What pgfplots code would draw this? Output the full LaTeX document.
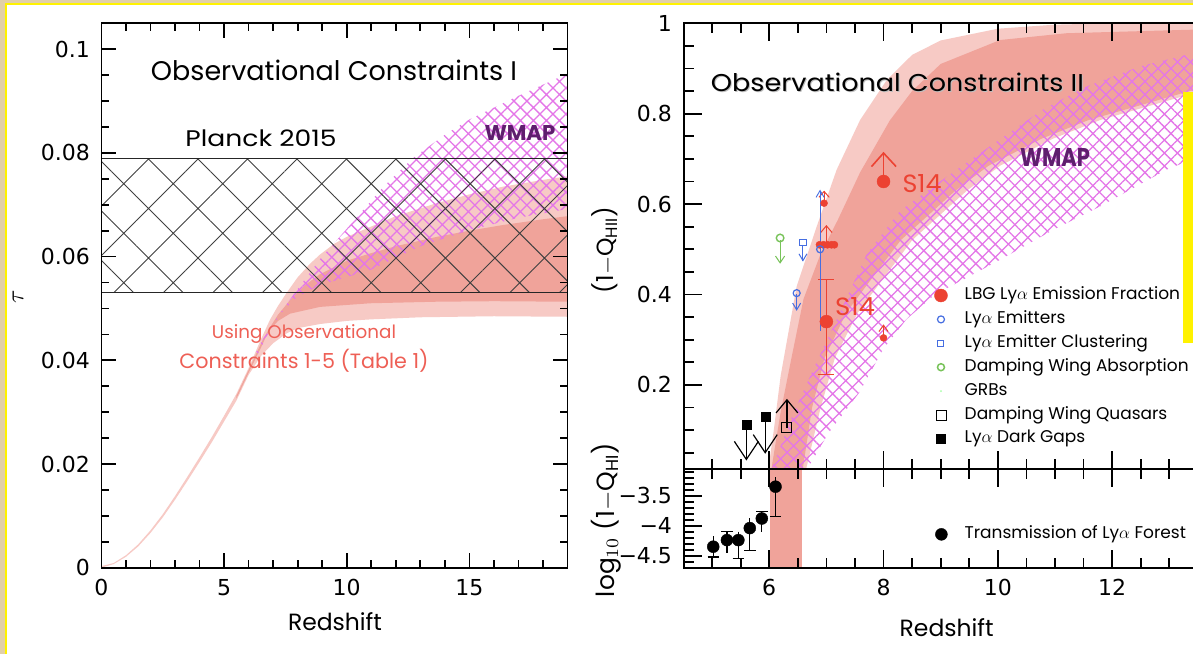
\documentclass[border=0pt]{standalone}
\usepackage{fontspec}
\setmainfont{Poppins}
\newfontfamily\dejavu{DejaVu Sans}
\usepackage{graphicx}
\usepackage{pgfplots}
\pgfplotsset{compat=1.18}
\usetikzlibrary{patterns.meta}
\definecolor{beige}{RGB}{226,208,168}
\definecolor{yel}{RGB}{255,242,0}
\definecolor{lightband}{RGB}{247,202,197}
\definecolor{darkband}{RGB}{240,163,154}
\definecolor{wmapc}{RGB}{228,118,232}
\definecolor{wmaptext}{RGB}{95,30,110}
\definecolor{dred}{RGB}{236,66,50}
\definecolor{tred}{RGB}{238,95,85}
\definecolor{dblue}{RGB}{70,110,225}
\definecolor{dgreen}{RGB}{120,195,90}
\newcommand{\tlf}{\dejavu\fontsize{22}{24}\selectfont}
\newcommand{\lf}{\fontsize{17}{18}\selectfont}
\tikzset{tk/.style={line width=1.7pt, black, line cap=butt}}
\pgfplotsset{base/.style={scale only axis, anchor=south west,
  axis line style={line width=1.7pt},
  major tick length=0pt, minor tick length=0pt, tick align=inside,
  ticklabel style={font=\tlf}, /pgf/number format/assume math mode=true,
  axis on top, clip=true, scaled ticks=false,
  xticklabel style={yshift=-8pt}, yticklabel style={xshift=-8pt}},
  leg/.style={legend cell align=left,
  legend image code/.code={\path (-12pt,0pt) (21pt,0pt); \draw[##1] plot coordinates {(0pt,0pt)};}}}
\begin{document}
\begin{tikzpicture}
\path[use as bounding box] (0pt,0pt) rectangle (1193pt,654pt);
\fill[beige] (0pt,0pt) rectangle (1193pt,654pt);
\fill[white] (7pt,0pt) rectangle (1193pt,649pt);
\draw[yel, line width=2pt] (6pt,0pt) -- (6pt,650pt) -- (1193pt,650pt);

% ---------------- left panel ----------------
\begin{axis}[base, at={(101.4pt,86.3pt)}, width=466.1pt, height=544.4pt,
  xmin=0, xmax=19, ymin=0, ymax=0.105,
  xtick={0,5,10,15}, xticklabels={0,5,10,15},
  ytick={0,0.02,0.04,0.06,0.08,0.1}, yticklabels={0,0.02,0.04,0.06,0.08,0.1}]
\addplot[fill=lightband, draw=none, forget plot] coordinates {
(0,0.0003) (0.5,0.0009) (1,0.0024) (1.5,0.0045) (2,0.0072) (2.5,0.0103) (3,0.0138) (3.5,0.0175) (4,0.0213) (4.5,0.0252) (5,0.0293) (5.5,0.0335) (6,0.0385) (6.5,0.0440) (6.87,0.0478) (7.2,0.0505) (7.55,0.0530) (8,0.0560) (8.5,0.0586) (8.91,0.0604) (9.5,0.0625) (10,0.0638) (10.95,0.0657) (12,0.0678) (13.66,0.0703) (15,0.0720) (16.38,0.0735) (18,0.0748) (19,0.0755)
(19,0.0484) (16,0.0485) (13,0.0483) (11,0.0479) (10,0.0476) (8.91,0.0470) (8,0.0462) (7.55,0.0452) (7,0.0433) (6.5,0.0408) (6,0.0372) (5.5,0.0322) (5,0.0282) (4.5,0.0242) (4,0.0204) (3.5,0.0167) (3,0.0131) (2.5,0.0097) (2,0.0067) (1.5,0.0041) (1,0.0021) (0.5,0.0007) (0,0)} -- cycle;
\addplot[fill=darkband, draw=none, forget plot] coordinates {
(5.5,0.0331) (6,0.0381) (6.5,0.0432) (6.8,0.0458) (7.2,0.0488) (7.69,0.0516) (8.3,0.0545) (8.91,0.0566) (10,0.0592) (10.95,0.0606) (12,0.0620) (13.66,0.0638) (15,0.0650) (16.38,0.0661) (18,0.0672) (19,0.0678)
(19,0.0513) (16,0.0514) (13.66,0.0513) (10.95,0.0510) (8.91,0.0503) (7.69,0.0490) (7.2,0.0476) (6.8,0.0455) (6.5,0.0424) (6,0.0376) (5.5,0.0326)} -- cycle;
\addplot[draw=none, pattern={Hatch[angle=45,distance=9.2pt,line width=1.3pt]}, pattern color=wmapc, forget plot] coordinates {
(6.3,0.0415) (6.6,0.0442) (7.2,0.0485) (7.88,0.0530) (8.91,0.0595) (10.27,0.0668) (11.5,0.0735) (12.7,0.0790) (14,0.0835) (15.02,0.0865) (17,0.0910) (19,0.0953)
(19,0.0692) (17,0.0675) (15,0.0651) (13,0.0620) (10.95,0.0574) (8.91,0.0545) (7.96,0.0522) (7.3,0.0490) (6.8,0.0452) (6.3,0.0405)} -- cycle;
\addplot[draw=none, pattern={Hatch[angle=45,distance=35pt,line width=1pt]}, pattern color=black!75, forget plot] coordinates {
(0,0.053) (19,0.053) (19,0.079) (0,0.079)} -- cycle;
\addplot[black!85, line width=1.1pt, forget plot] coordinates {(0,0.079) (19,0.079)};
\addplot[black!85, line width=1.1pt, forget plot] coordinates {(0,0.053) (19,0.053)};
\end{axis}

% ---------------- right top panel ----------------
\begin{axis}[base, leg, at={(683.5pt,185.5pt)}, width=542.9pt, height=445.2pt,
  xmin=4.5, xmax=14, ymin=0.015, ymax=1,
  axis line style={line width=2pt},
  xtick={6,8,10,12,14}, xticklabels={},
  ytick={0.2,0.4,0.6,0.8,1}, yticklabels={0.2,0.4,0.6,0.8,1},
  legend style={draw=none, fill=none, at={(0.4504,0.4115)}, anchor=north west, inner sep=0pt, row sep=3.9pt, font=\lf,
    nodes={inner sep=2pt, text height=12pt, text depth=4pt}}]
\addplot[fill=lightband, draw=none, forget plot] coordinates {
(5.97,0) (6.08,0.1) (6.2,0.22) (6.48,0.418) (6.83,0.55) (7.18,0.676) (7.59,0.786) (8.06,0.875) (8.5,0.93) (9.0,0.962) (10.0,0.988) (11,0.997) (12,1.0) (14,1.0)
(14,0.86) (13.42,0.845) (11.79,0.786) (10.97,0.745) (10.04,0.685) (9.46,0.63) (8.5,0.52) (7.98,0.433) (7.55,0.36) (7.15,0.26) (6.9,0.15) (6.62,0)} -- cycle;
\addplot[fill=darkband, draw=none, forget plot] coordinates {
(6.02,0) (6.2,0.14) (6.39,0.26) (6.6,0.39) (6.9,0.49) (7.2,0.565) (7.59,0.67) (8.11,0.785) (8.5,0.85) (9.0,0.91) (10.04,0.963) (11.2,0.978) (14,0.988)
(14,0.872) (13.22,0.845) (11.59,0.786) (10.77,0.745) (9.84,0.685) (9.26,0.63) (8.3,0.52) (7.78,0.433) (7.35,0.36) (6.97,0.26) (6.75,0.15) (6.57,0)} -- cycle;
\addplot[draw=none, pattern={Hatch[angle=45,distance=9.2pt,line width=1.3pt]}, pattern color=wmapc, forget plot] coordinates {
(6.0,0) (6.4,0.13) (6.77,0.234) (7.18,0.344) (7.71,0.49) (8.29,0.585) (9.1,0.66) (10,0.74) (10.8,0.81) (11.55,0.86) (12.5,0.905) (13.42,0.934) (14,0.945)
(14,0.73) (12.95,0.676) (11.79,0.595) (11,0.545) (10.04,0.477) (9.5,0.44) (8.9,0.40) (8.4,0.345) (8.0,0.28) (7.57,0.182) (7.04,0.094) (6.6,0)} -- cycle;
\addplot[dred, line width=1.6pt, forget plot] coordinates {(8.0,0.65) (8.0,0.713)};
\addplot[dred, line width=1.6pt, forget plot] coordinates {(7.79,0.683) (8.0,0.713) (8.22,0.683)};
\addplot[only marks, mark=*, mark size=6.5pt, dred, forget plot] coordinates {(8.0,0.65)};
\addplot[dred, line width=1.6pt, forget plot] coordinates {(7.0,0.223) (7.0,0.433)};
\addplot[dred, line width=1.6pt, forget plot] coordinates {(6.86,0.433) (7.14,0.433)};
\addplot[dred, line width=1.6pt, forget plot] coordinates {(6.86,0.223) (7.14,0.223)};
\addplot[only marks, mark=*, mark size=6.5pt, dred, forget plot] coordinates {(7.0,0.34)};
\addplot[dred, line width=1pt, forget plot] coordinates {(6.96,0.602) (6.96,0.628)};
\addplot[dred, line width=1pt, forget plot] coordinates {(6.87,0.615) (6.96,0.628) (7.05,0.615)};
\addplot[only marks, mark=*, mark size=3.5pt, dred, forget plot] coordinates {(6.96,0.602)};
\addplot[dred, line width=1pt, forget plot] coordinates {(7.0,0.51) (7.0,0.552)};
\addplot[dred, line width=1pt, forget plot] coordinates {(6.9,0.537) (7.0,0.552) (7.1,0.537)};
\addplot[only marks, mark=*, mark size=3.6pt, dred, forget plot] coordinates {(6.88,0.51) (6.95,0.51) (7.02,0.51) (7.09,0.51) (7.14,0.51)};
\addplot[dred, line width=1pt, forget plot] coordinates {(8.0,0.304) (8.0,0.332)};
\addplot[dred, line width=1pt, forget plot] coordinates {(7.92,0.318) (8.0,0.332) (8.08,0.318)};
\addplot[only marks, mark=*, mark size=3.5pt, dred, forget plot] coordinates {(8.0,0.304)};
\addplot[dblue, line width=0.9pt, forget plot] coordinates {(6.89,0.32) (6.89,0.63)};
\addplot[dblue, line width=0.9pt, forget plot] coordinates {(6.82,0.615) (6.89,0.63) (6.96,0.615)};
\addplot[only marks, mark=o, mark size=3.5pt, dblue, line width=1.2pt, fill=white, forget plot] coordinates {(6.89,0.50)};
\addplot[dblue, line width=1pt, forget plot] coordinates {(6.59,0.51) (6.59,0.475)};
\addplot[dblue, line width=1pt, forget plot] coordinates {(6.52,0.49) (6.59,0.475) (6.66,0.49)};
\addplot[only marks, mark=square, mark size=3.2pt, dblue, line width=1.2pt, forget plot] coordinates {(6.59,0.515)};
\addplot[dblue, line width=1pt, forget plot] coordinates {(6.48,0.40) (6.48,0.366)};
\addplot[dblue, line width=1pt, forget plot] coordinates {(6.41,0.381) (6.48,0.366) (6.55,0.381)};
\addplot[only marks, mark=o, mark size=3.5pt, dblue, line width=1.2pt, forget plot] coordinates {(6.48,0.403)};
\addplot[dgreen, line width=1pt, forget plot] coordinates {(6.19,0.52) (6.19,0.47)};
\addplot[dgreen, line width=1pt, forget plot] coordinates {(6.11,0.485) (6.19,0.47) (6.27,0.485)};
\addplot[only marks, mark=o, mark size=3.8pt, dgreen, line width=1.4pt, forget plot] coordinates {(6.19,0.525)};
\addplot[black, line width=1.2pt, forget plot] coordinates {(5.6,0.112) (5.6,0.035)};
\addplot[black, line width=1.2pt, forget plot] coordinates {(5.39,0.075) (5.6,0.035) (5.81,0.075)};
\addplot[black, line width=1.2pt, forget plot] coordinates {(5.93,0.13) (5.93,0.05)};
\addplot[black, line width=1.2pt, forget plot] coordinates {(5.72,0.09) (5.93,0.05) (6.14,0.09)};
\addplot[only marks, mark=square*, mark size=4.5pt, black, forget plot] coordinates {(5.6,0.112) (5.93,0.13)};
\addplot[black, line width=1.2pt, forget plot] coordinates {(6.31,0.105) (6.31,0.167)};
\addplot[black, line width=1.2pt, forget plot] coordinates {(6.12,0.138) (6.31,0.167) (6.5,0.138)};
\addplot[only marks, mark=square, mark size=5pt, black, line width=1pt, forget plot] coordinates {(6.31,0.105)};
\addlegendimage{only marks, mark=*, mark size=6.5pt, color=dred}
\addlegendentry{LBG Ly$\alpha$ Emission Fraction}
\addlegendimage{only marks, mark=o, mark size=3.5pt, dblue, line width=1.2pt}
\addlegendentry{Ly$\alpha$ Emitters}
\addlegendimage{only marks, mark=square, mark size=3pt, dblue, line width=1pt}
\addlegendentry{Ly$\alpha$ Emitter Clustering}
\addlegendimage{only marks, mark=o, mark size=3.5pt, dgreen, line width=1.5pt}
\addlegendentry{Damping Wing Absorption}
\addlegendimage{only marks, mark=*, mark size=0.8pt, green!30!white}
\addlegendentry{GRBs}
\addlegendimage{only marks, mark=square, mark size=5pt, black, line width=0.8pt}
\addlegendentry{Damping Wing Quasars}
\addlegendimage{only marks, mark=square*, mark size=4.5pt, black}
\addlegendentry{Ly$\alpha$ Dark Gaps}
\end{axis}

% ---------------- right bottom panel ----------------
\begin{axis}[base, leg, at={(683.5pt,86.3pt)}, width=542.9pt, height=99.2pt,
  xmin=4.5, xmax=14, ymin=-4.7, ymax=-3.047,
  axis line style={line width=2pt},
  xtick={6,8,10,12}, xticklabels={6,8,10,12},
  ytick={-4.5,-4,-3.5}, yticklabels={−4.5,−4,−3.5},
  legend style={draw=none, fill=none, at={(0.4522,0.439)}, anchor=north west, inner sep=0pt, font=\lf,
    nodes={inner sep=2pt, text height=12pt, text depth=4pt}}]
\addplot[fill=darkband, draw=none, forget plot] coordinates {(6.02,-5) (6.57,-5) (6.57,-3) (6.02,-3)} -- cycle;
\addplot[black, line width=1.2pt, forget plot] coordinates {(5.02,-4.18) (5.02,-4.52)};
\addplot[black, line width=1.2pt, forget plot] coordinates {(5.26,-4.10) (5.26,-4.46)};
\addplot[black, line width=1.2pt, forget plot] coordinates {(5.46,-4.10) (5.46,-4.54)};
\addplot[black, line width=1.2pt, forget plot] coordinates {(5.66,-3.88) (5.66,-4.41)};
\addplot[black, line width=1.2pt, forget plot] coordinates {(5.87,-3.77) (5.87,-4.10)};
\addplot[black, line width=1.2pt, forget plot] coordinates {(6.11,-3.19) (6.11,-3.85)};
\addplot[black, line width=1.2pt, forget plot] coordinates {(4.92,-4.52) (5.12,-4.52)};
\addplot[black, line width=1.2pt, forget plot] coordinates {(5.16,-4.10) (5.36,-4.10)};
\addplot[black, line width=1.2pt, forget plot] coordinates {(5.36,-4.54) (5.56,-4.54)};
\addplot[black, line width=1.2pt, forget plot] coordinates {(5.56,-4.41) (5.76,-4.41)};
\addplot[black, line width=1.2pt, forget plot] coordinates {(5.77,-3.77) (5.97,-3.77)};
\addplot[black, line width=1.2pt, forget plot] coordinates {(6.01,-3.85) (6.21,-3.85)};
\addplot[only marks, mark=*, mark size=6pt, black, forget plot] coordinates {
(5.02,-4.35) (5.26,-4.24) (5.46,-4.24) (5.66,-4.04) (5.87,-3.88) (6.11,-3.35)};
\addlegendimage{only marks, mark=*, mark size=6pt, black}
\addlegendentry{Transmission of Ly$\alpha$ Forest}
\end{axis}

% ---------------- tick marks (axis decoration) ----------------
\foreach \z in {0,5,10,15}{
  \draw[tk] ({(101.4+24.532*\z)*1pt},86.3pt) -- ++(0pt,15pt);
  \draw[tk] ({(101.4+24.532*\z)*1pt},630.7pt) -- ++(0pt,-15pt);}
\foreach \z in {1,2,3,4,6,7,8,9,11,12,13,14,16,17,18}{
  \draw[tk] ({(101.4+24.532*\z)*1pt},86.3pt) -- ++(0pt,8pt);
  \draw[tk] ({(101.4+24.532*\z)*1pt},630.7pt) -- ++(0pt,-8pt);}
\foreach \t in {0.02,0.04,0.06,0.08,0.1}{
  \draw[tk] (101.4pt,{(86.3+5184.8*\t)*1pt}) -- ++(15pt,0pt);
  \draw[tk] (567.5pt,{(86.3+5184.8*\t)*1pt}) -- ++(-15pt,0pt);}
\foreach \t in {0.005,0.01,0.015,0.025,0.03,0.035,0.045,0.05,0.055,0.065,0.07,0.075,0.085,0.09,0.095}{
  \draw[tk] (101.4pt,{(86.3+5184.8*\t)*1pt}) -- ++(8pt,0pt);
  \draw[tk] (567.5pt,{(86.3+5184.8*\t)*1pt}) -- ++(-8pt,0pt);}
\foreach \z in {6,8,10,12}{
  \draw[tk] ({(683.5+57.147*(\z-4.5))*1pt},86.3pt) -- ++(0pt,18pt);
  \draw[tk] ({(683.5+57.147*(\z-4.5))*1pt},167.5pt) -- ++(0pt,36pt);
  \draw[tk] ({(683.5+57.147*(\z-4.5))*1pt},630.7pt) -- ++(0pt,-18pt);}
\foreach \z in {5,5.5,6.5,7,7.5,8.5,9,9.5,10.5,11,11.5,12.5,13,13.5}{
  \draw[tk] ({(683.5+57.147*(\z-4.5))*1pt},86.3pt) -- ++(0pt,10pt);
  \draw[tk] ({(683.5+57.147*(\z-4.5))*1pt},175.5pt) -- ++(0pt,20pt);
  \draw[tk] ({(683.5+57.147*(\z-4.5))*1pt},630.7pt) -- ++(0pt,-10pt);}
\foreach \v in {0.2,0.4,0.6,0.8}{
  \draw[tk] (683.5pt,{(185.5+451.98*(\v-0.015))*1pt}) -- ++(18pt,0pt);}
\foreach \v in {0.05,0.1,0.15,0.25,0.3,0.35,0.45,0.5,0.55,0.65,0.7,0.75,0.85,0.9,0.95}{
  \draw[tk] (683.5pt,{(185.5+451.98*(\v-0.015))*1pt}) -- ++(10pt,0pt);}
\foreach \v in {-4.5,-4,-3.5}{
  \draw[tk] (683.5pt,{(86.3+60.012*(\v+4.7))*1pt}) -- ++(18pt,0pt);}
\foreach \v in {-4.6,-4.4,-4.3,-4.2,-4.1,-3.9,-3.8,-3.7,-3.6,-3.4,-3.3,-3.2,-3.1}{
  \draw[tk] (683.5pt,{(86.3+60.012*(\v+4.7))*1pt}) -- ++(10pt,0pt);}

% ---------------- texts ----------------
\node at (334pt,584pt) {\resizebox{366pt}{20.5pt}{Observational Constraints I}};
\node at (261pt,516pt) {\resizebox{151pt}{16.7pt}{Planck 2015}};
\node[text=wmaptext] at (520pt,521pt) {\resizebox{71pt}{15pt}{\bfseries WMAP}};
\node[text=tred] at (304pt,320pt) {\resizebox{184pt}{!}{Using Observational}};
\node[text=tred] at (304pt,293pt) {\resizebox{249pt}{!}{Constraints 1-5 (Table 1)}};
\node at (335pt,32pt) {\resizebox{94pt}{!}{Redshift}};
\node[rotate=90] at (18pt,357pt) {\fontsize{24}{24}\selectfont$\tau$};

\node[text=black!25] at (898.5pt,571pt) {\resizebox{373pt}{18.5pt}{Observational Constraints II}};
\node at (897.5pt,572pt) {\resizebox{373pt}{18.5pt}{Observational Constraints II}};
\node[text=wmaptext] at (1055pt,496pt) {\resizebox{70pt}{18pt}{\bfseries WMAP}};
\node[text=dred] at (922pt,470pt) {\resizebox{39pt}{18pt}{S14}};
\node[text=dred] at (855pt,347pt) {\resizebox{40pt}{18pt}{S14}};
\node at (946.7pt,26pt) {\resizebox{94pt}{!}{Redshift}};
\node[rotate=90] at (605pt,404pt) {\resizebox{86pt}{!}{(1$-$Q$_{\rm HII}$)}};
\node[rotate=90] at (606pt,134pt) {\resizebox{154pt}{!}{log$_{10}$ (1$-$Q$_{\rm HI}$)}};

\fill[yel] (1183pt,562pt) rectangle (1193pt,311pt);
\end{tikzpicture}
\end{document}
